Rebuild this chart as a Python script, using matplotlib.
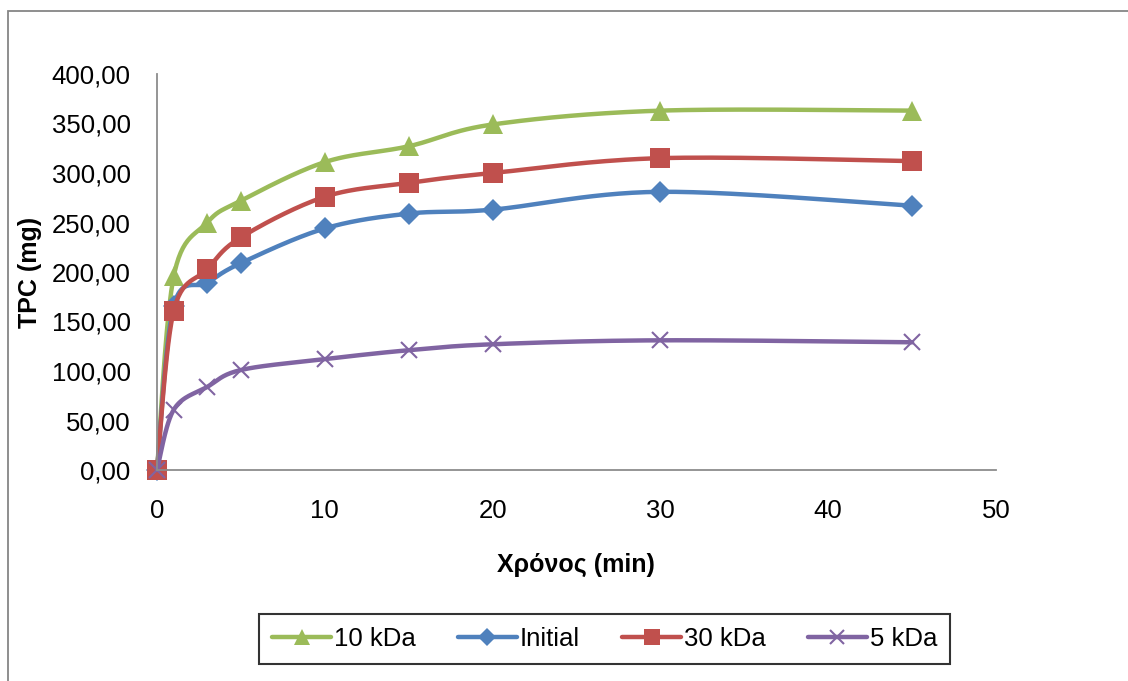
import numpy as np
import matplotlib
matplotlib.use("Agg")
import matplotlib.pyplot as plt
from matplotlib.ticker import FuncFormatter, MultipleLocator
from matplotlib.patches import Rectangle

plt.rcParams['font.family'] = ['Liberation Sans', 'DejaVu Sans']

time_min = [0, 1, 3, 5, 10, 15, 20, 30, 45]
tpc_10kda = [0, 196, 250, 272, 311, 327, 349, 363, 363]
tpc_initial = [0, 166, 189, 209, 244, 259, 263, 281, 267]
tpc_30kda = [0, 161, 203, 235, 276, 290, 300, 315, 312]
tpc_5kda = [0, 61, 84, 101, 112, 121, 127, 131, 129]

series_names = ["10 kDa", "Initial", "30 kDa", "5 kDa"]
x_label = "Χρόνος (min)"
y_label = "TPC (mg)"


def smooth(x, y, n=30):
    x = np.asarray(x, float)
    y = np.asarray(y, float)
    P = np.column_stack([x, y])
    out = [P[0]]
    for i in range(len(P) - 1):
        p0 = P[i - 1] if i > 0 else P[i]
        p1 = P[i]
        p2 = P[i + 1]
        p3 = P[i + 2] if i + 2 < len(P) else P[i + 1]
        c1 = p1 + (p2 - p0) / 6.0
        c2 = p2 - (p3 - p1) / 6.0
        t = np.linspace(0, 1, n)[1:, None]
        b = ((1 - t) ** 3) * p1 + 3 * ((1 - t) ** 2) * t * c1 + 3 * (1 - t) * t ** 2 * c2 + t ** 3 * p2
        out.extend(b)
    out = np.array(out)
    return out[:, 0], out[:, 1]


fig = plt.figure(figsize=(11.28, 6.81), dpi=100)
ax = fig.add_axes([157 / 1128, (681 - 470) / 681, (996 - 157) / 1128, (470 - 74) / 681])

styles = [
    (tpc_10kda, "#9BBB59", "^", 14, 1),
    (tpc_initial, "#4F81BD", "D", 11, 1),
    (tpc_30kda, "#C0504D", "s", 14, 1),
    (tpc_5kda, "#8064A2", "x", 12, 1.5),
]

handles = []
for (vals, col, mk, ms, mew), name in zip(styles, series_names):
    sx, sy = smooth(time_min, vals)
    ax.plot(sx, sy, color=col, lw=3.2, solid_capstyle='round', clip_on=False)
    ax.plot(time_min, vals, linestyle='none', marker=mk, markersize=ms, color=col,
            markeredgewidth=mew if mk == 'x' else 0, clip_on=False)
    h, = ax.plot([], [], color=col, lw=3.2, marker=mk, markersize=ms * 0.85,
                 markeredgewidth=mew if mk == 'x' else 0, solid_capstyle='round')
    handles.append(h)

ax.set_xlim(0, 50)
ax.set_ylim(0, 400)
ax.xaxis.set_major_locator(MultipleLocator(10))
ax.yaxis.set_major_locator(MultipleLocator(50))
ax.yaxis.set_major_formatter(FuncFormatter(lambda v, p: f"{v:.2f}".replace('.', ',')))
for s in ['top', 'right']:
    ax.spines[s].set_visible(False)
for s in ['left', 'bottom']:
    ax.spines[s].set_color('#8C8C8C')
    ax.spines[s].set_linewidth(1.3)
ax.tick_params(length=0, labelsize=18.5, colors='black')
ax.tick_params(axis='y', pad=19)
ax.tick_params(axis='x', pad=21)

fig.text(576 / 1128, 1 - 565 / 681, x_label, ha='center', va='center', fontsize=18, fontweight='bold')
fig.text(30 / 1128, 1 - 272 / 681, y_label, ha='center', va='center', fontsize=18, fontweight='bold', rotation=90)

leg = fig.legend(handles=handles, labels=series_names, loc='center', ncol=4,
                 bbox_to_anchor=(604.5 / 1128, 1 - 639 / 681), fontsize=18.5, frameon=True,
                 fancybox=False, handlelength=2.3, handletextpad=0.1, columnspacing=1.65,
                 borderpad=0.5)
leg.get_frame().set_edgecolor('black')
leg.get_frame().set_linewidth(1.5)

fig.patches.append(Rectangle((8 / 1128, -0.1), 1.2, 1 - 11 / 681 + 0.1, transform=fig.transFigure,
                             fill=False, edgecolor='#868686', lw=1.3))

fig.savefig("out.png", dpi=100)
